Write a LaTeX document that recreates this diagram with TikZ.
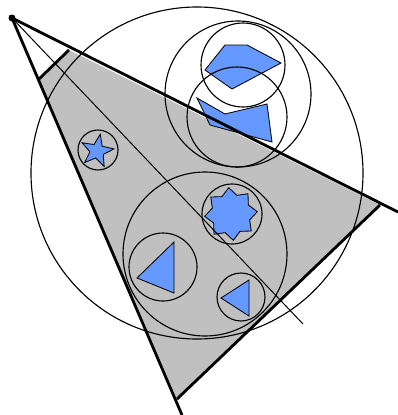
\documentclass[tikz,border=0pt]{standalone}
\usetikzlibrary{shapes.geometric}
\definecolor{primblue}{RGB}{102,153,255}
\definecolor{conegray}{RGB}{192,192,192}
\begin{document}
\begin{tikzpicture}[
        x=0.025cm, y=-0.025cm,
        bound/.style={draw, line width=0.8pt},
        prim/.style={draw, fill=primblue, line width=0.6pt, inner sep=0pt, outer sep=0pt},
        edge/.style={line width=2pt},
        axis/.style={line width=0.7pt}
    ]
    \useasboundingbox (0,0) rectangle (398,415);
    \clip (0,0) rectangle (398,415);

    \coordinate (apex) at (12,18);
    \coordinate (nearL) at (39,79);
    \coordinate (nearR) at (69,50);
    \coordinate (farR) at (380,205);
    \coordinate (farL) at (177,399);
    \coordinate (endR) at (398,212);
    \coordinate (endL) at (182,415);
    \coordinate (endA) at (303,324);

    % view cone
    \fill[conegray] (nearL) -- (nearR) -- (farR) -- (farL) -- cycle;

    % primitives
    \draw[prim] (225,45) -- (247,45) -- (281,63) -- (232,89) -- (205,70) -- cycle;
    \draw[prim] (197,98) -- (225,114) -- (267,104) -- (272,142) -- (210,125) -- cycle;
    \draw[prim] (174,242) -- (174,293) -- (137,278) -- cycle;
    \draw[prim] (249,280) -- (249,316) -- (221,298) -- cycle;
    \node (starA) [prim, star, star points=5, star point ratio=2.4,
        minimum size=0.85cm, rotate=-11] at (97,151) {};
    \node (starB) [prim, star, star points=8, star point ratio=1.35,
        minimum size=1.32cm, rotate=5] at (231,214) {};

    % bounding circles
    \draw[bound] (197,173) circle (166);
    \draw[bound] (238,94) circle (73);
    \draw[bound] (243,65) circle (42);
    \draw[bound] (237,117) circle (50);
    \draw[bound] (205,254) circle (82);
    \draw[bound] (98,150) circle (20);
    \draw[bound] (232,214) circle (30);
    \draw[bound] (163,267) circle (34);
    \draw[bound] (241,297) circle (24);

    \draw[axis] (apex) -- (endA);
    \draw[edge] (nearL) -- (nearR) (farR) -- (farL);
    \draw[edge] (endR) -- (apex) -- (endL);
    \fill (apex) circle (3.5);
\end{tikzpicture}
\end{document}
